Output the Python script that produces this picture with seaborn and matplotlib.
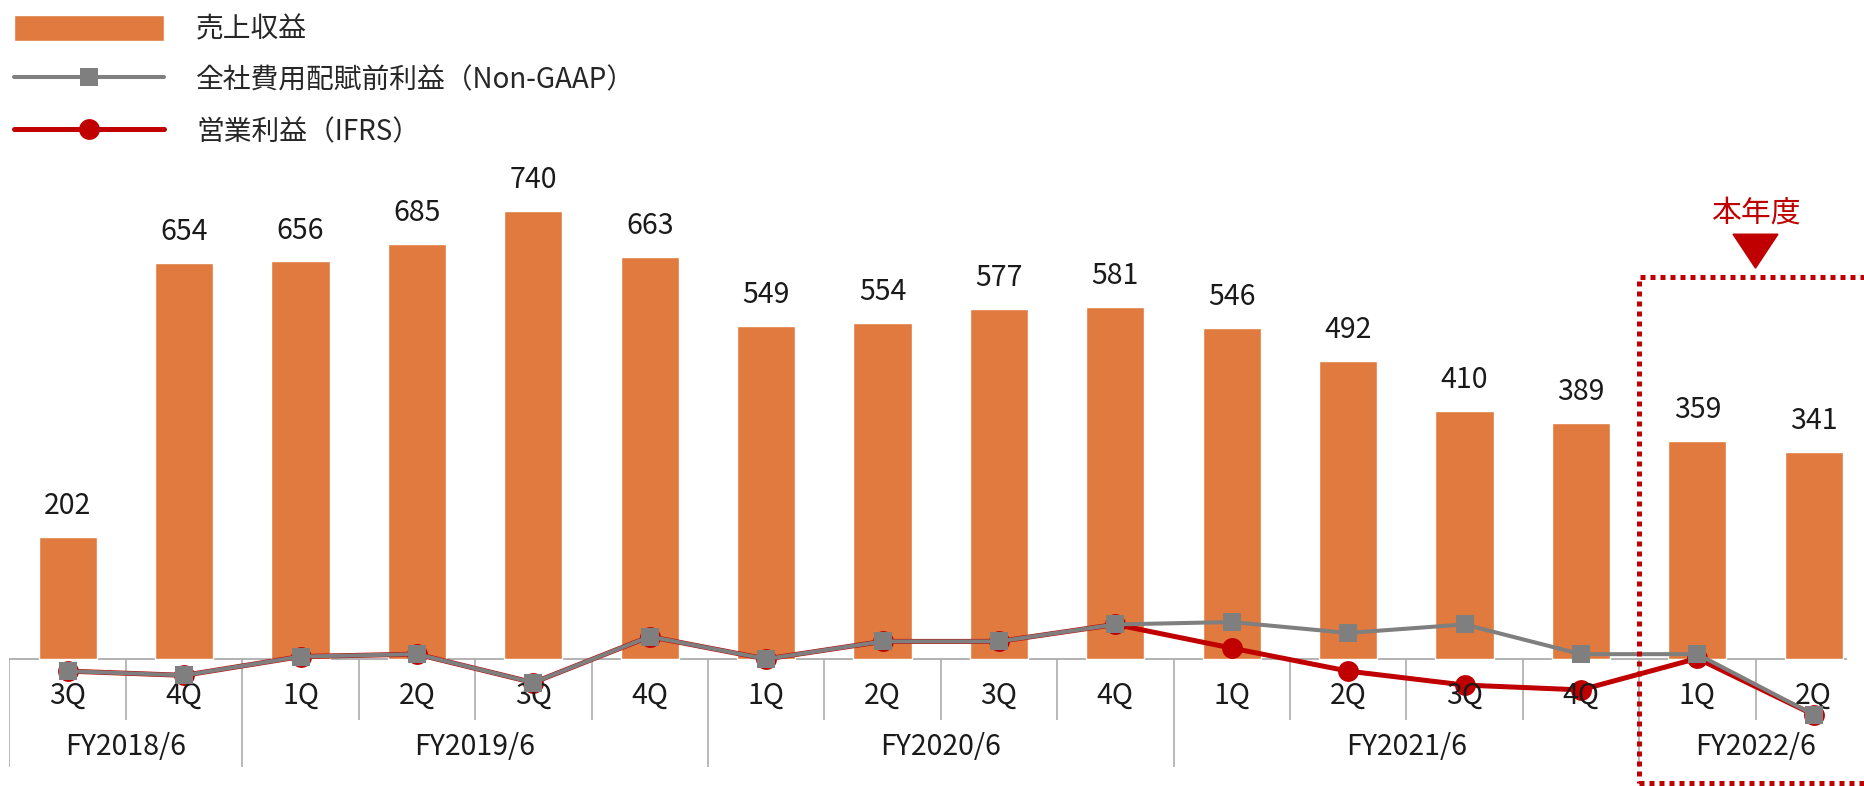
import numpy as np
import pandas as pd
import matplotlib
import matplotlib.pyplot as plt
import seaborn as sns
from matplotlib.patches import Rectangle, Polygon

matplotlib.use("Agg")

# ── Data ───────────────────────────────────────────────────────────────────
quarters = ["3Q", "4Q", "1Q", "2Q", "3Q", "4Q", "1Q", "2Q",
            "3Q", "4Q", "1Q", "2Q", "3Q", "4Q", "1Q", "2Q"]
fiscal_years = ["FY2018/6", "FY2019/6", "FY2020/6", "FY2021/6", "FY2022/6"]
year_sizes = [2, 4, 4, 4, 2]
revenue = [202, 654, 656, 685, 740, 663, 549, 554,
           577, 581, 546, 492, 410, 389, 359, 341]
non_gaap = [-20, -27, 4, 8, -39, 37, 0, 29,
            29, 57, 61, 43, 57, 8, 8, -92]
op_income = [-20, -27, 4, 8, -39, 37, 0, 29,
             29, 57, 18, -20, -43, -51, 1, -92]

labels = ["売上収益", "全社費用配賦前利益（Non-GAAP）", "営業利益（IFRS）"]

ORANGE = "#E07A3E"
GRAY = "#7F7F7F"
RED = "#C00000"
SEP = "#A6A6A6"
TXT = "#1a1a1a"

n = len(revenue)
periods = []
k = 0
for fy, size in zip(fiscal_years, year_sizes):
    for _ in range(size):
        periods.append(f"{fy} {quarters[k]}")
        k += 1

df = pd.DataFrame({"period": periods, "revenue": revenue,
                   "x": np.arange(n), "non_gaap": non_gaap,
                   "op_income": op_income})

# ── Figure ─────────────────────────────────────────────────────────────────
sns.set_style("white")
plt.rcParams["font.family"] = ["Noto Sans CJK JP", "DejaVu Sans"]

W, H = 1865, 786
fig = plt.figure(figsize=(W / 100, H / 100), dpi=100)
step = 116.4
ax = fig.add_axes([9.5 / W, 0, 16 * step / W, 1])

sns.barplot(data=df, x="period", y="revenue", order=periods, color=ORANGE,
            saturation=1, width=0.5, ax=ax, label=labels[0], zorder=2)
sns.lineplot(data=df, x="x", y="op_income", color=RED, lw=3.6, marker="o",
             markersize=15, markeredgewidth=0, ax=ax, label=labels[2],
             zorder=3)
sns.lineplot(data=df, x="x", y="non_gaap", color=GRAY, lw=2.9, marker="s",
             markersize=13.5, markeredgewidth=0, ax=ax, label=labels[1],
             zorder=4)

ax.set_xlim(-0.5, 15.5)
ax.set_ylim(-209.6, 1087.5)
ax.set_axis_off()

# value labels above bars
ax.bar_label(ax.containers[0], padding=11.5, fontsize=20.5, color=TXT)

# baseline and category separators
ax.hlines(0, -0.5, 15.29, color=SEP, lw=1.2, zorder=1)
bounds = np.cumsum([0] + year_sizes) - 0.5
for b in np.arange(-0.5, n - 0.5):
    low = -178 if b in bounds else -100
    ax.vlines(b, low, 0, color=SEP, lw=1.1, zorder=1)

for i, q in enumerate(quarters):
    ax.text(i, -61, q, ha="center", va="center", fontsize=20.5, color=TXT)
for fy, lo, hi in zip(fiscal_years, bounds[:-1], bounds[1:]):
    ax.text((lo + hi) / 2, -145, fy, ha="center", va="center",
            fontsize=20.5, color=TXT)

# current-year highlight
ax.add_patch(Rectangle((13.5, -204.6), 2.6, 834.6, fill=False,
                       edgecolor=RED, lw=3.6, ls=(0, (1, 1)),
                       clip_on=False, zorder=5))
ax.add_patch(Polygon([(14.5 - 0.193, 701), (14.5 + 0.193, 701), (14.5, 645)],
                     closed=True, color=RED, zorder=5))
ax.text(14.5, 736, "本年度", ha="center", va="center", fontsize=21.5,
        color=RED)

# legend
handles, labs = ax.get_legend_handles_labels()
order = [labs.index(l) for l in labels]
ax.legend([handles[i] for i in order], [labs[i] for i in order],
          loc="upper left", bbox_to_anchor=(6 / W, 1 - 6 / H),
          bbox_transform=fig.transFigure, frameon=False, fontsize=20,
          handlelength=5.4, handleheight=1.08, handletextpad=1.15,
          labelspacing=0.77, borderpad=0.3, borderaxespad=0)

fig.savefig("out.png", dpi=100)
plt.close(fig)
